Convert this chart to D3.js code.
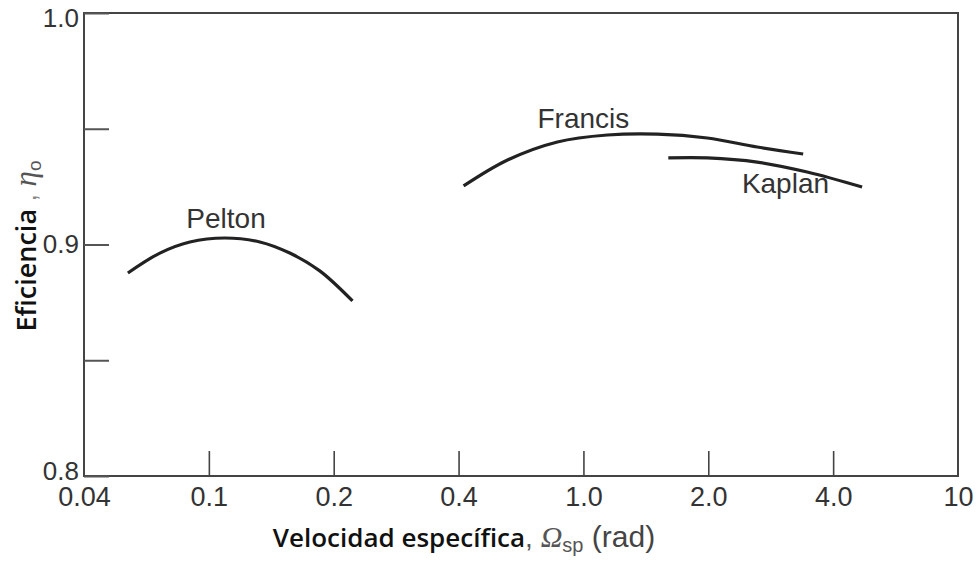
<!DOCTYPE html>
<html><head><meta charset="utf-8">
<script src="https://cdn.jsdelivr.net/npm/d3@7"></script>
<style>body{margin:0;background:#fff}svg{display:block}</style>
</head><body>
<svg id="c" width="978" height="563"></svg>
<script>
// Data
const xTickValues = [0.04, 0.1, 0.2, 0.4, 1.0, 2.0, 4.0, 10];
const xTickLabels = ["0.04", "0.1", "0.2", "0.4", "1.0", "2.0", "4.0", "10"];
const yTickValues = [0.8, 0.85, 0.9, 0.95, 1.0];
const yTickLabels = ["0.8", "", "0.9", "", "1.0"];

const peltonX = [0.0552, 0.0698, 0.0870, 0.1093, 0.1327, 0.1567, 0.1851, 0.222];
const peltonY = [0.8877, 0.8963, 0.9011, 0.9028, 0.9011, 0.8963, 0.8886, 0.8756];
const francisX = [0.415, 0.573, 0.826, 1.142, 1.507, 1.989, 2.624, 3.387];
const francisY = [0.9253, 0.9365, 0.9443, 0.9473, 0.9477, 0.9460, 0.9421, 0.9391];
const kaplanX = [1.602, 1.989, 2.624, 3.463, 4.947];
const kaplanY = [0.9374, 0.9374, 0.9356, 0.9313, 0.9248];

const seriesNames = ["Pelton", "Francis", "Kaplan"];
const labelX = [0.110, 1.0, 3.07];
const labelY = [0.9071, 0.9503, 0.9222];

const svg = d3.select("#c");
const L = 84, R = 958, T = 13, B = 476;

const x = d3.scaleLog().domain(xTickValues)
  .range(xTickValues.map((d, i) => L + i * (R - L) / (xTickValues.length - 1)));
const y = d3.scaleLinear().domain([0.8, 1.0]).range([B, T]);

const axisColor = "#444";
const txtColor = "#333";
const sans = "Liberation Sans, Arial, sans-serif";

// frame
svg.append("rect").attr("x", L).attr("y", T).attr("width", R - L).attr("height", B - T)
  .attr("fill", "none").attr("stroke", axisColor).attr("stroke-width", 2);

// y axis
const gy = svg.append("g").attr("transform", `translate(${L},0)`)
  .call(d3.axisLeft(y).tickValues(yTickValues)
    .tickFormat((d, i) => yTickLabels[i]).tickSizeInner(-25).tickSizeOuter(0).tickPadding(5));
gy.select(".domain").remove();
gy.selectAll(".tick line").attr("stroke", "#555").attr("stroke-width", 2);
gy.selectAll(".tick text").attr("fill", txtColor)
  .style("font-family", sans).style("font-size", "26px")
  .attr("dy", (d) => d === 0.8 ? "0.12em" : (d === 1.0 ? "0.52em" : "0.32em"));

// x axis
const gx = svg.append("g").attr("transform", `translate(0,${B})`)
  .call(d3.axisBottom(x).tickValues(xTickValues)
    .tickFormat((d, i) => xTickLabels[i]).tickSizeInner(-25).tickSizeOuter(0).tickPadding(11));
gx.select(".domain").remove();
gx.selectAll(".tick line").attr("stroke", axisColor).attr("stroke-width", 1.6)
  .filter((d, i) => i === 0 || i === xTickValues.length - 1).remove();
gx.selectAll(".tick text").attr("fill", txtColor)
  .style("font-family", sans).style("font-size", "27px");

// curves
const line = d3.line().x(d => x(d[0])).y(d => y(d[1])).curve(d3.curveCatmullRom.alpha(0.5));
const series = [
  d3.zip(peltonX, peltonY),
  d3.zip(francisX, francisY),
  d3.zip(kaplanX, kaplanY)
];
svg.append("g").selectAll("path").data(series).join("path")
  .attr("d", line).attr("fill", "none").attr("stroke", "#222")
  .attr("stroke-width", 3.2).attr("stroke-linecap", "butt");

// curve labels
svg.append("g").selectAll("text").data(seriesNames).join("text")
  .attr("x", (d, i) => x(labelX[i])).attr("y", (d, i) => y(labelY[i]))
  .attr("text-anchor", "middle").attr("fill", txtColor)
  .style("font-family", sans).style("font-size", "28px")
  .text(d => d);

// y label
const yl = svg.append("text").attr("transform", "translate(36,246) rotate(-90)")
  .attr("text-anchor", "middle").style("font-size", "27px");
yl.append("tspan").text("Eficiencia").style("font-family", "Open Sans, sans-serif")
  .style("font-weight", "600").attr("fill", "#111");
yl.append("tspan").text(" , ").style("font-family", sans).attr("fill", "#888");
yl.append("tspan").text("η").style("font-family", "Liberation Serif, serif")
  .style("font-style", "italic").attr("fill", "#555").style("font-size", "31px");
yl.append("tspan").text("o").style("font-family", sans)
  .attr("fill", "#555").style("font-size", "19px").attr("dy", "5");

// x label
const xl = svg.append("text").attr("x", 464).attr("y", 547)
  .attr("text-anchor", "middle").style("font-size", "26px");
xl.append("tspan").text("Velocidad específica").style("font-family", "Open Sans, sans-serif")
  .style("font-weight", "600").attr("fill", "#111");
xl.append("tspan").text(", ").style("font-family", sans).attr("fill", "#555").style("font-size", "28px");
xl.append("tspan").text("Ω").style("font-family", "Liberation Serif, serif")
  .style("font-style", "italic").attr("fill", "#555").style("font-size", "30px");
xl.append("tspan").text("sp").style("font-family", sans)
  .attr("fill", "#555").style("font-size", "20px").attr("dy", "5");
xl.append("tspan").text(" (rad)").style("font-family", sans)
  .attr("fill", "#444").attr("dy", "-5").style("font-size", "30px");
</script>
</body></html>
